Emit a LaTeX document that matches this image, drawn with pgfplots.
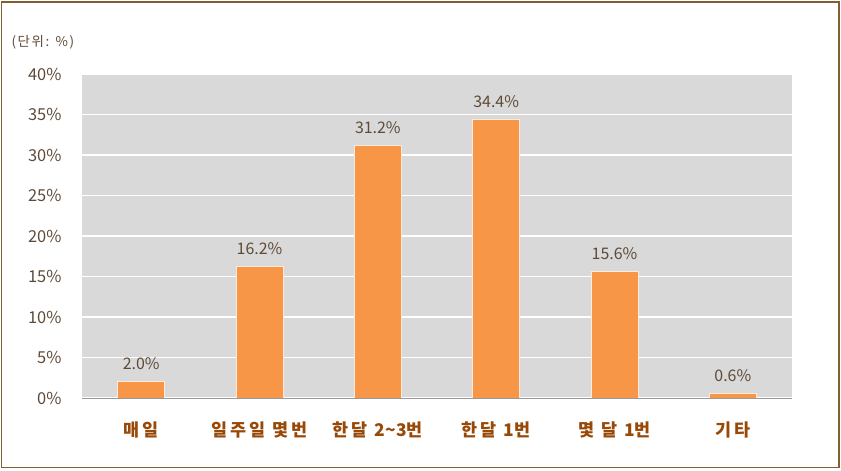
\documentclass[border=0pt]{standalone}
\usepackage{pgfplots}
\pgfplotsset{compat=1.18}
\usepackage{fontspec}
\setmainfont{Noto Sans CJK KR}
\definecolor{barc}{HTML}{F79646}
\definecolor{bgc}{HTML}{D9D9D9}
\definecolor{brd}{HTML}{7F6035}
\definecolor{catc}{HTML}{984807}
\definecolor{valc}{HTML}{5E4A38}
\newcommand{\tight}[1]{{\addfontfeatures{LetterSpace=0}#1}}
\pgfplotsset{/pgf/number format/assume math mode=true}
\begin{document}
\begin{tikzpicture}[x=1bp,y=1bp]
\useasboundingbox (0,0) rectangle (841,471);
\draw[brd, line width=1.5bp] (1.5,3.5) rectangle (839,469);
\node[anchor=west, font=\fontsize{13.5}{16}\selectfont\addfontfeatures{LetterSpace=12}, text=valc] at (8,429) {(단위: \%)};
\begin{axis}[
  at={(82bp,73bp)}, anchor=south west,
  scale only axis, width=710bp, height=324bp,
  xmin=-0.5, xmax=5.5, ymin=0, ymax=40,
  axis background/.style={fill=bgc},
  axis x line*=bottom, axis y line*=left,
  y axis line style={draw=none},
  x axis line style={draw=gray!80, line width=0.8bp, -},
  ymajorgrids, grid style={white, line width=1.6bp},
  ytick={0,5,...,40},
  yticklabel={\pgfmathprintnumber{\tick}\%},
  ytick style={draw=none},
  yticklabel style={font=\fontsize{16.5}{19}\selectfont, text=valc, xshift=-17bp},
  xtick={0,...,5},
  xticklabels={매일, 일주일 몇번, 한달 \tight{2\textasciitilde3}번, 한달 \tight{1}번, 몇 달 \tight{1}번, 기타},
  xtick style={draw=none},
  xticklabel style={font=\bfseries\fontsize{17.5}{20}\selectfont\addfontfeatures{LetterSpace=17}, text=catc, yshift=-16bp},
  extra x ticks={-0.5,0.5,...,5.5},
  extra x tick labels={},
  extra x tick style={tick style={draw=gray!80, line width=0.8bp}, major tick length=6bp, tick align=outside, xmajorgrids=false},
  ybar, bar width=47bp,
  nodes near coords={\pgfmathprintnumber[fixed,fixed zerofill,precision=1]{\pgfplotspointmeta}\%},
  nodes near coords style={font=\fontsize{16}{19}\selectfont, text=valc, anchor=south, yshift=8bp},
]
\addplot[fill=barc, draw=white!80!barc, line width=0.8bp] coordinates {(0,2.0) (1,16.2) (2,31.2) (3,34.4) (4,15.6) (5,0.6)};
\end{axis}
\end{tikzpicture}
\end{document}
